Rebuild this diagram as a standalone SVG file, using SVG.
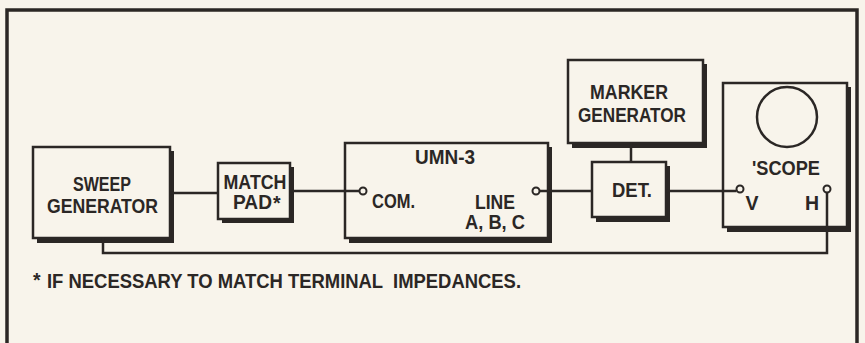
<svg xmlns="http://www.w3.org/2000/svg" width="865" height="343" viewBox="0 0 865 343">
<style>
.bg{fill:#f8f4eb}
.sh{fill:#2b2725}
.box{fill:#f8f4eb;stroke:#2b2725;stroke-width:2.5}
.w{fill:none;stroke:#2b2725;stroke-width:2.5}
.term{fill:#f8f4eb;stroke:#2b2725;stroke-width:2}
text{font-family:"Liberation Sans",Arial,sans-serif;font-weight:bold;font-size:19.5px;fill:#2b2725}
.m{text-anchor:middle}
</style>
<rect class="bg" x="0" y="0" width="865" height="343"/>
<rect x="7" y="10" width="850" height="345" fill="none" stroke="#2b2725" stroke-width="3.5"/>
<g id="sweep">
<rect class="sh" x="37" y="151" width="137" height="92"/>
<rect class="box" x="33" y="147" width="137" height="91"/>
<text class="m" x="102" y="191" textLength="58" lengthAdjust="spacingAndGlyphs">SWEEP</text>
<text class="m" x="102.5" y="213" textLength="111" lengthAdjust="spacingAndGlyphs">GENERATOR</text>
</g>
<g id="pad">
<rect class="sh" x="222" y="167" width="72" height="56"/>
<rect class="box" x="218" y="163" width="72" height="56"/>
<text class="m" x="255" y="189" textLength="63" lengthAdjust="spacingAndGlyphs">MATCH</text>
<text x="233" y="209" textLength="39" lengthAdjust="spacingAndGlyphs">PAD</text>
<text x="273" y="210" font-size="18">*</text>
</g>
<g id="umn3">
<rect class="sh" x="349" y="147" width="203" height="96"/>
<rect class="box" x="345" y="143" width="203" height="95"/>
<text class="m" x="445" y="164" textLength="60" lengthAdjust="spacingAndGlyphs">UMN-3</text>
<text x="372" y="208" textLength="43" lengthAdjust="spacingAndGlyphs">COM.</text>
<text class="m" x="495" y="209" font-size="17.5" textLength="40" lengthAdjust="spacingAndGlyphs">LINE</text>
<text class="m" x="495" y="229" font-size="17.5" textLength="60" lengthAdjust="spacingAndGlyphs">A, B, C</text>
</g>
<g id="marker">
<rect class="sh" x="572" y="64" width="135" height="84"/>
<rect class="box" x="568" y="60" width="135" height="83"/>
<text class="m" x="629" y="99" textLength="78" lengthAdjust="spacingAndGlyphs">MARKER</text>
<text class="m" x="632" y="122" textLength="108" lengthAdjust="spacingAndGlyphs">GENERATOR</text>
</g>
<g id="det">
<rect class="sh" x="596" y="166" width="74" height="56"/>
<rect class="box" x="592" y="162" width="74" height="55"/>
<text class="m" x="632" y="197" textLength="40" lengthAdjust="spacingAndGlyphs">DET.</text>
</g>
<g id="scope">
<rect class="sh" x="727" y="87" width="124" height="145"/>
<rect class="box" x="723" y="83" width="124" height="144"/>
<circle cx="787" cy="117" r="30" fill="none" stroke="#2b2725" stroke-width="2.5"/>
<text class="m" x="786" y="175" textLength="68" lengthAdjust="spacingAndGlyphs">'SCOPE</text>
<text class="m" x="752" y="210">V</text>
<text class="m" x="812" y="210">H</text>
</g>
<g id="connectors">
<polyline class="w" points="170,193 218,193"/>
<polyline class="w" points="290,191 359.5,191"/>
<polyline class="w" points="539.5,191 592,191"/>
<polyline class="w" points="631,143 631,162"/>
<polyline class="w" points="666,191 736.5,191"/>
<polyline class="w" points="827,192.5 827,253 103,253 103,238"/>
<circle class="term" cx="363" cy="191" r="3.5"/>
<circle class="term" cx="536" cy="191" r="3.5"/>
<circle class="term" cx="740" cy="189" r="3.5"/>
<circle class="term" cx="827" cy="189" r="3.5"/>
</g>
<g id="footnote">
<text x="33" y="287" font-size="24">*</text>
<text x="47" y="288" font-size="18" textLength="474" lengthAdjust="spacingAndGlyphs" xml:space="preserve">IF NECESSARY TO MATCH TERMINAL  IMPEDANCES.</text>
</g>
</svg>
